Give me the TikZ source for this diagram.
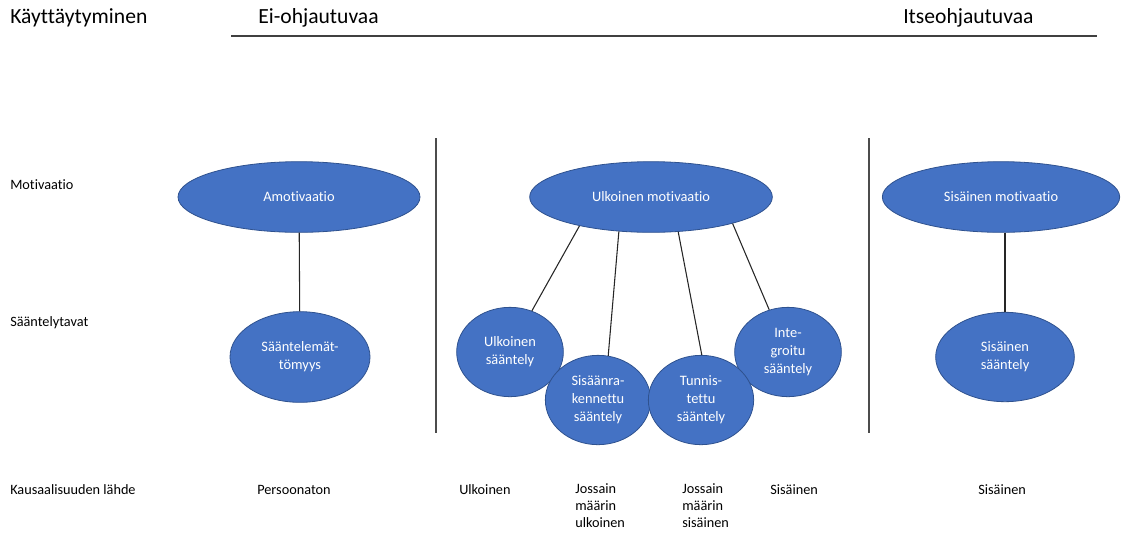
\documentclass[tikz,border=0pt]{standalone}
\usepackage{fontspec}
\setmainfont{Carlito}[Ligatures=CommonOff]
\usetikzlibrary{shapes.geometric,positioning}
\definecolor{ovalblue}{HTML}{4472C4}
\definecolor{ovalrim}{HTML}{2F528F}

\begin{document}
\begin{tikzpicture}[x=0.75pt, y=-0.75pt,
    oval/.style={ellipse, draw=ovalrim, line width=0.6pt, fill=ovalblue, text=white, inner sep=0pt, align=center, font=\fontsize{10.8}{13.5}\selectfont},
    head/.style={anchor=west, inner sep=0pt, font=\fontsize{16.2}{18}\selectfont},
    lbl/.style={anchor=west, inner sep=0pt, font=\fontsize{10.7}{12.8}\selectfont},
    lbltop/.style={anchor=north west, inner sep=0pt, align=left, font=\fontsize{10.7}{12.8}\selectfont},
    link/.style={line width=0.8pt, black!85}
]
\useasboundingbox (0,0) rectangle (1126,536);

\node[head] (kayt) at (10,18) {Käyttäytyminen};
\node[head] (eiohj) at (258,18) {Ei-ohjautuvaa};
\node[head] (itse) at (903,18) {Itseohjautuvaa};
\coordinate (hl) at (231,36);
\coordinate (hr) at (1097,36);
\draw[line width=1pt, black!75] (hl) -- (hr);

\coordinate (v1t) at (436,138);
\coordinate (v1b) at (436,433);
\coordinate (v2t) at (869,138);
\coordinate (v2b) at (869,433);
\draw[line width=1pt, black!70] (v1t) -- (v1b);
\draw[line width=1pt, black!70] (v2t) -- (v2b);

\node[lbl] (motiv) at (10,185) {Motivaatio};
\node[lbl] (saant) at (10,323) {Sääntelytavat};
\node[lbl] (kaus) at (10,490) {Kausaalisuuden lähde};

\node[oval, minimum width=181.5pt, minimum height=53pt] (amot) at (299,197) {Amotivaatio};
\node[oval, minimum width=182pt, minimum height=53pt] (ulkmot) at (651,197) {Ulkoinen motivaatio};
\node[oval, minimum width=178pt, minimum height=53pt] (sismot) at (1001,197) {Sisäinen motivaatio};

\node[oval, minimum width=105pt, minimum height=68pt] (saantel) at (300,357) {Sääntelemät-\\tömyys};
\node[oval, minimum width=80pt, minimum height=67pt] (ulksaa) at (510,352) {Ulkoinen\\sääntely};
\node[oval, minimum width=80pt, minimum height=67pt] (integ) at (788,352) {Inte-\\groitu\\sääntely};
\node[oval, minimum width=79pt, minimum height=67pt] (sisrak) at (598,400) {Sisäänra-\\kennettu\\sääntely};
\node[oval, minimum width=79pt, minimum height=67pt] (tunn) at (701,400) {Tunnis-\\tettu\\sääntely};
\node[oval, minimum width=104pt, minimum height=67pt] (sissaa) at (1005,357) {Sisäinen\\sääntely};

\draw[link] (amot) -- (saantel);
\draw[link] (sismot.south -| sissaa.north) -- (sissaa);
\draw[link] (ulkmot.202) -- (ulksaa.62);
\draw[link] (ulkmot.227) -- (sisrak.77);
\draw[link] (ulkmot.308) -- (tunn.89);
\draw[link] (ulkmot.342) -- (integ.114);

\node[lbl] (pers) at (257,490) {Persoonaton};
\node[lbl] (ulk) at (459,490) {Ulkoinen};
\node[lbltop] (josulk) at (575,483) {Jossain\\määrin\\ulkoinen};
\node[lbltop] (jossis) at (682,483) {Jossain\\määrin\\sisäinen};
\node[lbl] (sis) at (770,490) {Sisäinen};
\node[lbl] (sis2) at (978,490) {Sisäinen};
\end{tikzpicture}
\end{document}
